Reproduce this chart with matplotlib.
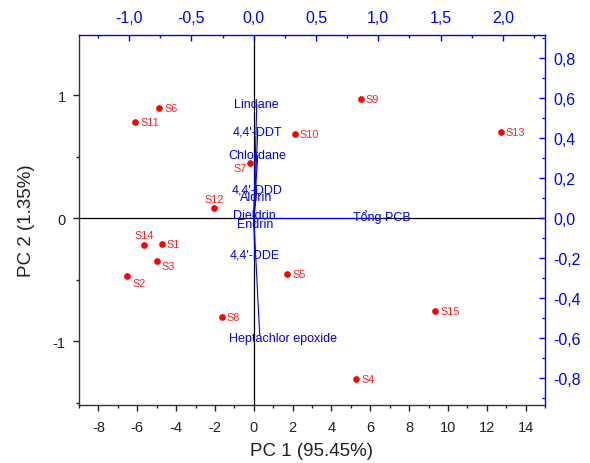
import matplotlib
matplotlib.use('Agg')
import matplotlib.pyplot as plt
from matplotlib.ticker import MultipleLocator, FuncFormatter

plt.rcParams['font.family'] = ['Liberation Sans', 'DejaVu Sans']
plt.rcParams['axes.unicode_minus'] = False

# ---- scores (PC1, PC2) ----
samples = ['S1', 'S2', 'S3', 'S4', 'S5', 'S6', 'S7', 'S8', 'S9', 'S10',
           'S11', 'S12', 'S13', 'S14', 'S15']
pc1 = [-4.74, -6.51, -4.98, 5.29, 1.72, -4.88, -0.21, -1.66, 5.50, 2.11,
       -6.10, -2.05, 12.71, -5.65, 9.35]
pc2 = [-0.208, -0.470, -0.351, -1.306, -0.454, 0.898, 0.452, -0.806, 0.973, 0.681,
       0.779, 0.081, 0.697, -0.216, -0.752]

# ---- loadings ----
variables = ['Lindane', "4,4'-DDT", 'Chlordane', "4,4'-DDD", 'Aldrin', 'Dieldrin',
             'Endrin', "4,4'-DDE", 'Heptachlor epoxide', 'Tổng PCB']
load1 = [0.024, 0.032, 0.032, 0.024, 0.016, 0.008, 0.008, 0.008, 0.048, 0.99]
load2 = [0.569, 0.434, 0.314, 0.142, 0.105, 0.017, -0.027, -0.180, -0.584, 0.0]

# label offsets (pixels) - style only
score_off = {'S7': (-10, -5, 'center'), 'S12': (0, 9, 'center'), 'S14': (0, 10, 'center'),
             'S2': (5, -7, 'left'), 'S3': (4.5, -4.5, 'left')}
load_off = {'Heptachlor epoxide': (23.5, -3), 'Tổng PCB': (4.5, 2)}

W, H = 590, 464
fig = plt.figure(figsize=(W / 100, H / 100), dpi=100)
rect = [79 / W, 1 - 406 / H, (545 - 79) / W, (406 - 36) / H]
ax = fig.add_axes(rect)
ax2 = fig.add_axes(rect)
ax2.patch.set_visible(False)

xlim = (-9, 15)
ylim = (-1.52, 1.49)
rx = 124.4 / 19.4
ry = 123.3 / 200.5
ax.set_xlim(*xlim)
ax.set_ylim(*ylim)
ax2.set_xlim(xlim[0] / rx, xlim[1] / rx)
ax2.set_ylim(ylim[0] * ry, ylim[1] * ry)

# primary axes styling
ax.spines['top'].set_visible(False)
ax.spines['right'].set_visible(False)
for s in ['left', 'bottom']:
    ax.spines[s].set_linewidth(1.0)
    ax.spines[s].set_color('#333333')
ax.xaxis.set_major_locator(MultipleLocator(2))
ax.xaxis.set_minor_locator(MultipleLocator(1))
ax.yaxis.set_major_locator(MultipleLocator(1))
ax.yaxis.set_minor_locator(MultipleLocator(0.5))
ax.tick_params(which='both', direction='out', colors='#222222', labelsize=10.5)
ax.tick_params(which='major', length=4.5, width=1.0)
ax.tick_params(axis='x', which='major', pad=6)
ax.tick_params(axis='y', which='major', pad=5)
ax.tick_params(which='minor', length=2.5, width=1.0)
ax.set_xlabel('PC 1 (95.45%)', fontsize=13.5, labelpad=6, color='#222222')
ax.set_ylabel('PC 2 (1.35%)', fontsize=13.5, labelpad=13, color='#222222')

# secondary axes styling
ax2.spines['left'].set_visible(False)
ax2.spines['bottom'].set_visible(False)
for s in ['top', 'right']:
    ax2.spines[s].set_color('blue')
    ax2.spines[s].set_linewidth(1.0)
ax2.xaxis.tick_top()
ax2.yaxis.tick_right()
ax2.xaxis.set_major_locator(MultipleLocator(0.5))
ax2.xaxis.set_minor_locator(MultipleLocator(0.25))
ax2.yaxis.set_major_locator(MultipleLocator(0.2))
ax2.yaxis.set_minor_locator(MultipleLocator(0.1))
fmt = FuncFormatter(lambda v, p: f"{v:.1f}".replace('.', ',').replace('-0,0', '0,0'))
ax2.xaxis.set_major_formatter(fmt)
ax2.yaxis.set_major_formatter(fmt)
ax2.tick_params(which='both', direction='in', colors='blue', labelsize=11.5)
ax2.tick_params(which='major', length=4.5, width=1.0)
ax2.tick_params(axis='x', which='major', pad=7)
ax2.tick_params(axis='y', which='major', pad=6)
ax2.tick_params(which='minor', length=2.5, width=1.0)

# zero lines
ax.axhline(0, color='black', lw=0.9, zorder=1)
ax.axvline(0, color='black', lw=0.9, zorder=1)

# scores
ax.plot(pc1, pc2, 'o', color='red', ms=3.8, ls='none', zorder=3)
for name, x, y in zip(samples, pc1, pc2):
    dx, dy, ha = score_off.get(name, (5, 0, 'left'))
    ax.annotate(name, (x, y), xytext=(dx, dy), textcoords='offset pixels',
                ha=ha, va='center', fontsize=7.8, color='#FF2020', zorder=4)

# loadings
for name, x, y in zip(variables, load1, load2):
    ax2.plot([0, x], [0, y], color='blue', lw=0.8, zorder=2)
    dx, dy = load_off.get(name, (0, 0))
    ax2.annotate(name, (x, y), xytext=(dx, dy), textcoords='offset pixels',
                 ha='center', va='center', fontsize=9, color='blue', zorder=5)

fig.savefig('out.png', dpi=100)
